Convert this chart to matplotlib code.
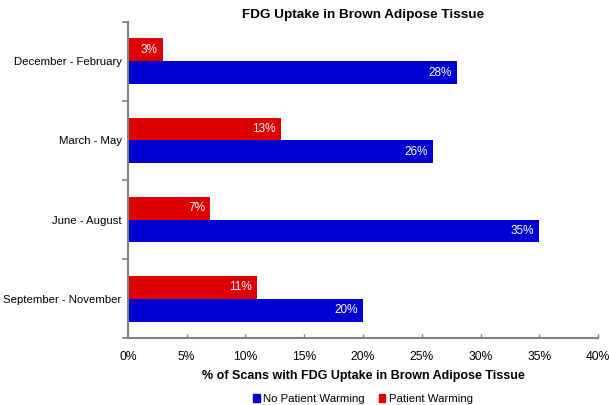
import numpy as np
import matplotlib.pyplot as plt
from matplotlib.patches import Patch

plt.rcParams['font.family'] = ['Liberation Sans', 'DejaVu Sans']

seasons = ['December - February', 'March - May', 'June - August', 'September - November']
no_warming = [28, 26, 35, 20]
warming = [3, 13, 7, 11]

blue = '#0000d2'
red = '#de0000'
axis_gray = '#808080'

fig = plt.figure(figsize=(6.09, 4.05), dpi=100)
ax = fig.add_axes([0.210, 0.165, 0.772, 0.781])

y = np.arange(len(seasons))
h = 0.29
bars_r = ax.barh(y - h / 2, warming, height=h, color=red, edgecolor='none')
bars_b = ax.barh(y + h / 2, no_warming, height=h, color=blue, edgecolor='none')

for bars in (bars_r, bars_b):
    for b in bars:
        w = b.get_width()
        ax.text(w - 0.45, b.get_y() + b.get_height() / 2, f'{w:.0f}%',
                color='white', ha='right', va='center', fontsize=8.5)

ax.set_xlim(0, 40)
ax.set_ylim(len(seasons) - 0.5, -0.5)
ax.set_xticks(np.arange(0, 41, 5))
ax.set_xticklabels([f'{v}%' for v in range(0, 41, 5)], fontsize=8.7)
ax.set_yticks(y)
ax.set_yticklabels(seasons, fontsize=8.2)
ax.set_yticks(np.arange(-0.5, len(seasons)), minor=True)
ax.tick_params(axis='y', which='major', length=0, pad=4.5)
ax.tick_params(axis='y', which='minor', length=4, direction='out', color=axis_gray, width=1.2)
ax.tick_params(axis='x', which='major', length=3, direction='in', color=axis_gray, width=1, pad=9)

for s in ['top', 'right']:
    ax.spines[s].set_visible(False)
for s in ['left', 'bottom']:
    ax.spines[s].set_color(axis_gray)
    ax.spines[s].set_linewidth(1.5)

ax.set_title('FDG Uptake in Brown Adipose Tissue', fontsize=9.7, fontweight='bold', pad=3)
ax.set_xlabel('% of Scans with FDG Uptake in Brown Adipose Tissue', fontsize=9,
              fontweight='bold', labelpad=5)

handles = [Patch(color=blue, label='No Patient Warming'), Patch(color=red, label='Patient Warming')]
fig.legend(handles=handles, loc='center', bbox_to_anchor=(0.596, 0.015), ncol=2, frameon=False,
           fontsize=8.2, handlelength=0.6, handleheight=0.6, handletextpad=0.3, columnspacing=1.2)

fig.savefig('out.png', dpi=100)
